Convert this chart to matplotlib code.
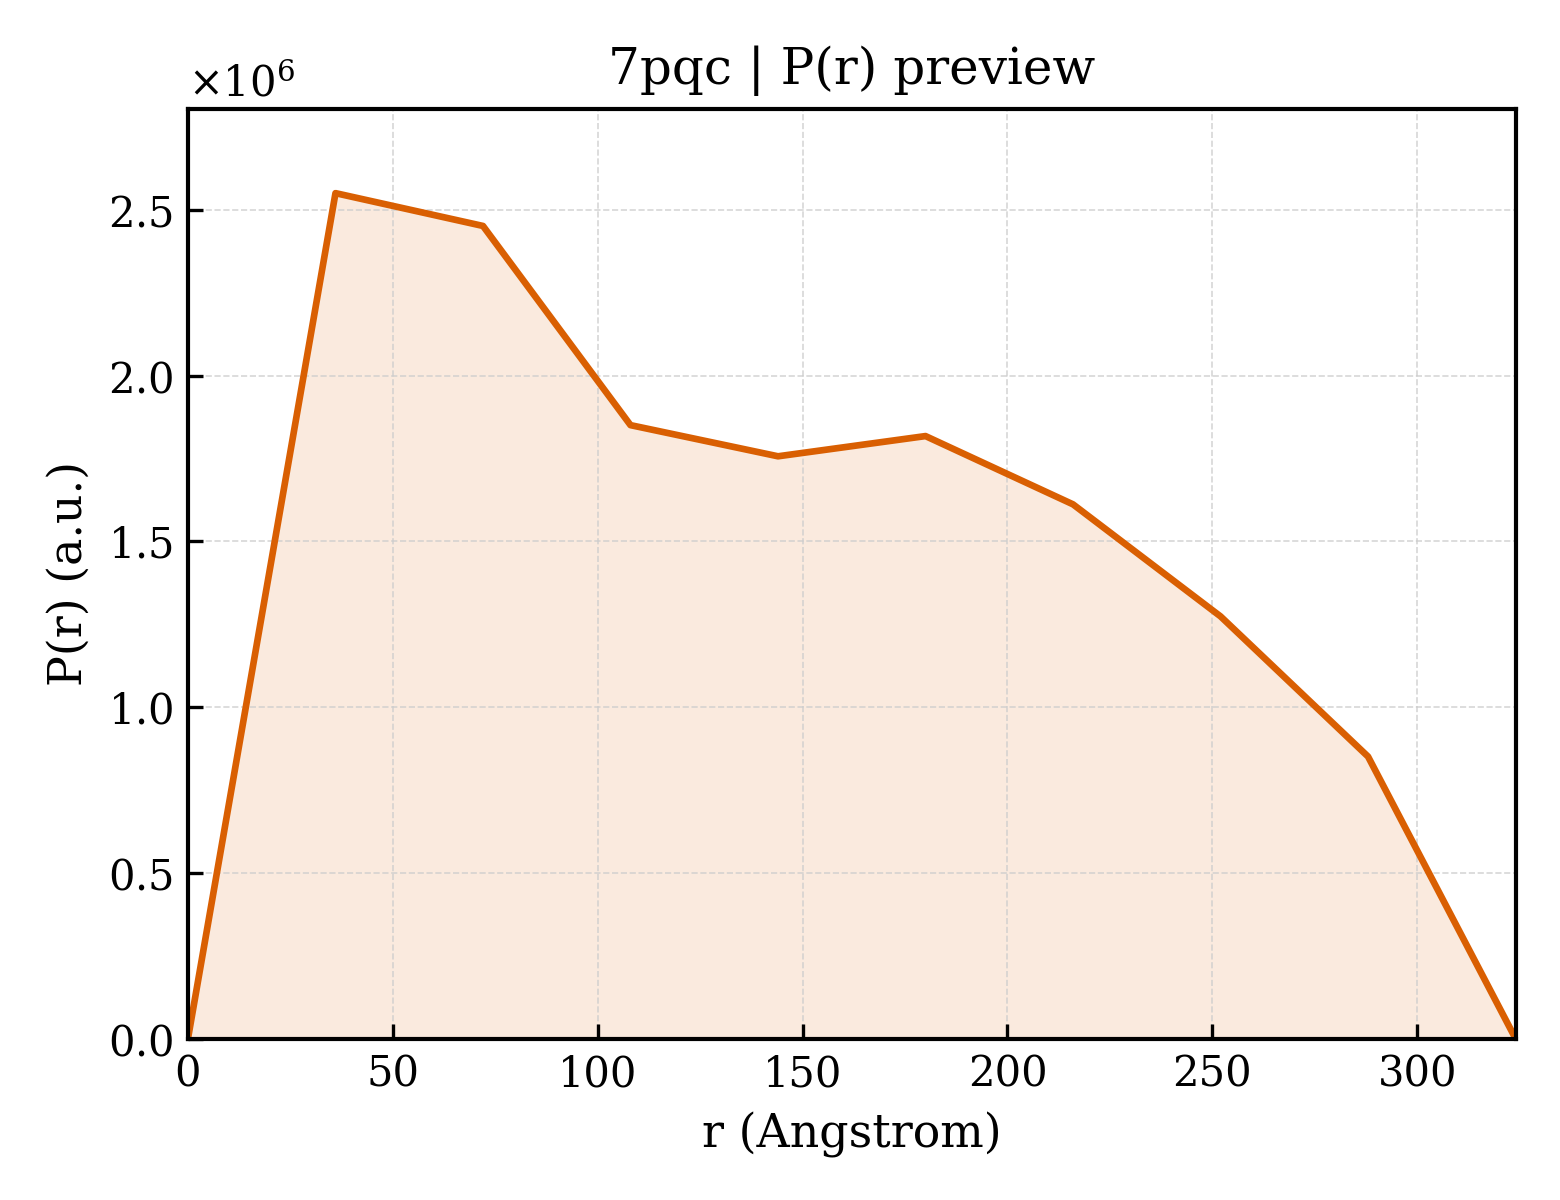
import matplotlib
matplotlib.use('Agg')
import matplotlib.pyplot as plt
import numpy as np

r = [0, 36, 72, 108, 144, 180, 216, 252, 288, 324]
pr = [0.0, 2.551e6, 2.452e6, 1.851e6, 1.757e6, 1.818e6, 1.612e6, 1.274e6, 0.851e6, 0.0]

plt.rcParams['font.family'] = 'DejaVu Serif'
plt.rcParams['mathtext.fontset'] = 'dejavuserif'

fig = plt.figure(figsize=(5.2, 4), dpi=300)
ax = fig.add_axes([0.1205, 0.1345, 0.851, 0.775])

color = '#d95f02'
ax.plot(r, pr, color=color, linewidth=1.6)
ax.fill_between(r, pr, 0, color=color, alpha=0.13, linewidth=0)

ax.set_xlim(0, max(r))
ax.set_ylim(0, max(pr) * 1.1)
ax.set_title('7pqc | P(r) preview', fontsize=12)
ax.set_xlabel('r (Angstrom)', fontsize=11)
ax.set_ylabel('P(r) (a.u.)', fontsize=11)
ax.tick_params(direction='in', labelsize=10, width=0.8, length=3.5)
ax.ticklabel_format(axis='y', style='sci', scilimits=(0, 0), useMathText=True)
ax.yaxis.get_offset_text().set_fontsize(10)
ax.grid(True, linestyle='--', linewidth=0.4, color='#cccccc', alpha=0.8)
for s in ax.spines.values():
    s.set_linewidth(1.0)

fig.savefig('out.png', dpi=300)
